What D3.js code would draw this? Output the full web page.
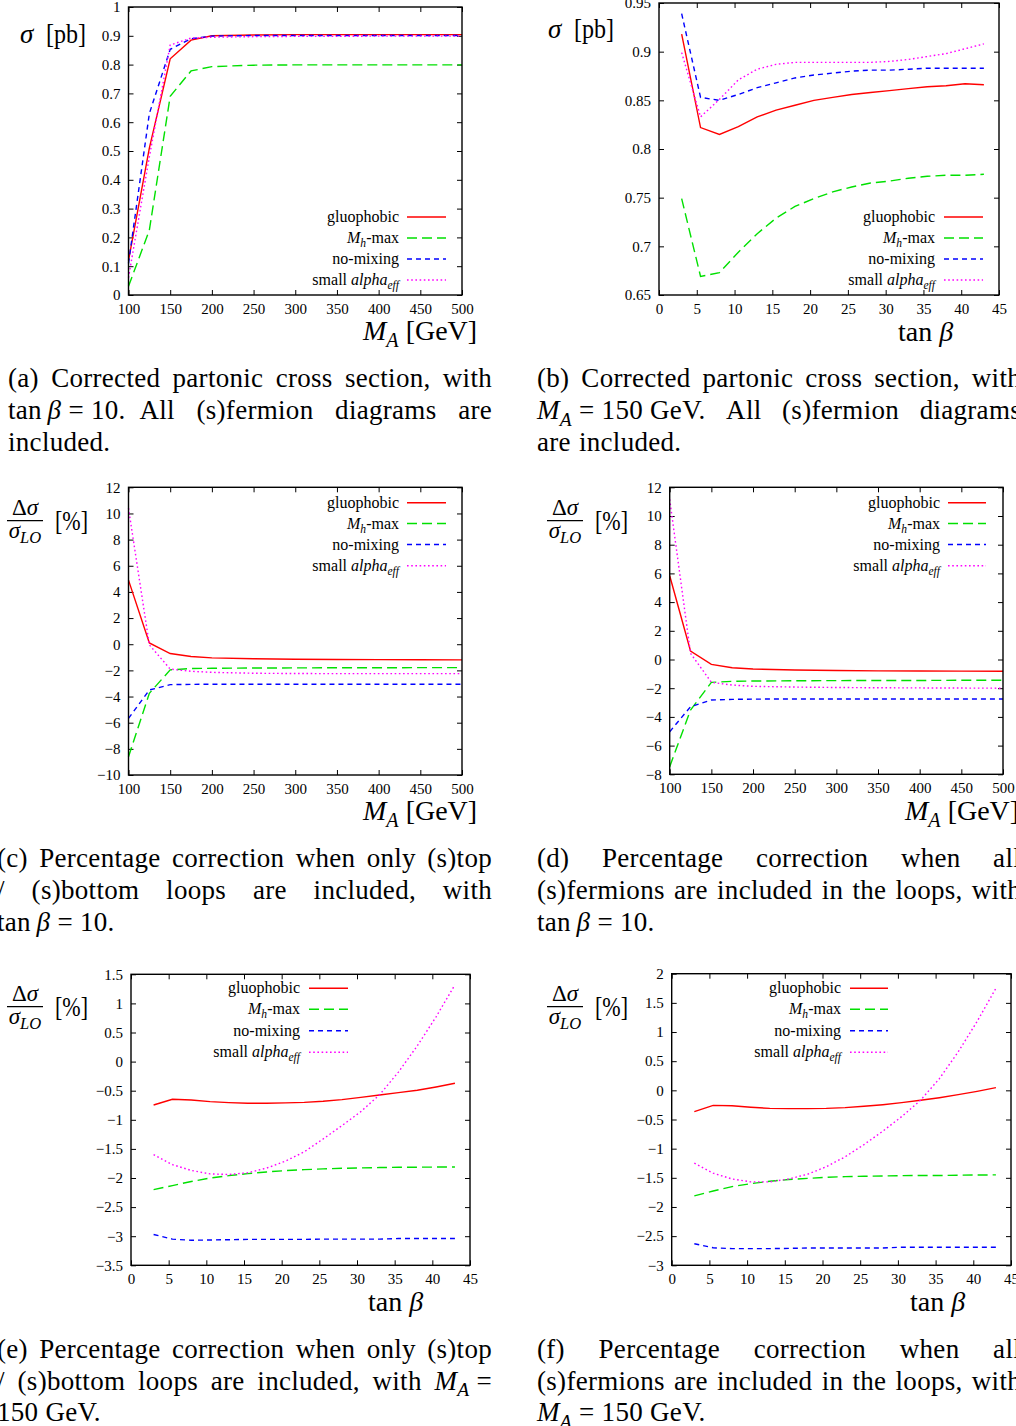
<!DOCTYPE html>
<html><head><meta charset="utf-8">
<script src="https://cdn.jsdelivr.net/npm/d3@7"></script>
<style>
body{margin:0;background:#fff}
svg{display:block;background:#fff}
text{font-family:"Liberation Serif","DejaVu Serif","Times New Roman",serif;fill:#000}
</style>
</head><body>
<svg id="chart" width="1016" height="1426" font-family="Liberation Serif, DejaVu Serif, serif"></svg>
<script>
// ---------------- DATA ----------------
const seriesNames = ["gluophobic", "$M_h$-max", "no-mixing", "small $alpha_eff$"];
const mA = [100, 125, 150, 175, 200, 250, 300, 350, 400, 450, 500];
const tanBeta = [3, 5.5, 8, 10.5, 13, 15.5, 18, 20.5, 23, 25.5, 28, 30.5, 33, 35.5, 38, 40.5, 43];

// (a) sigma vs M_A, tan beta = 10
const sigMA_gluophobic = [0.12, 0.51, 0.82, 0.885, 0.900, 0.903, 0.904, 0.904, 0.904, 0.904, 0.904];
const sigMA_mhmax      = [0.03, 0.225, 0.69, 0.778, 0.793, 0.798, 0.799, 0.799, 0.799, 0.799, 0.799];
const sigMA_nomixing   = [0.11, 0.63, 0.853, 0.89, 0.899, 0.901, 0.901, 0.901, 0.901, 0.901, 0.901];
const sigMA_smallalpha = [0.06, 0.48, 0.868, 0.892, 0.895, 0.897, 0.898, 0.898, 0.899, 0.899, 0.899];

// (b) sigma vs tan beta, M_A = 150 GeV
const sigTB_gluophobic = [0.918, 0.822, 0.815, 0.823, 0.833, 0.840, 0.845, 0.850, 0.853, 0.856, 0.858, 0.860, 0.862, 0.864, 0.865, 0.867, 0.866];
const sigTB_mhmax      = [0.749, 0.669, 0.673, 0.694, 0.713, 0.729, 0.741, 0.749, 0.756, 0.761, 0.765, 0.767, 0.770, 0.772, 0.773, 0.773, 0.774];
const sigTB_nomixing   = [0.939, 0.853, 0.850, 0.856, 0.863, 0.868, 0.873, 0.876, 0.878, 0.880, 0.881, 0.881, 0.882, 0.883, 0.883, 0.883, 0.883];
const sigTB_smallalpha = [0.899, 0.833, 0.851, 0.871, 0.882, 0.887, 0.889, 0.889, 0.889, 0.889, 0.889, 0.890, 0.892, 0.895, 0.898, 0.903, 0.908];

// (c) % correction, only (s)top/(s)bottom, vs M_A
const topMA_gluophobic = [4.9, 0.1, -0.71, -0.94, -1.04, -1.11, -1.15, -1.17, -1.18, -1.19, -1.2];
const topMA_mhmax      = [-8.6, -3.75, -1.96, -1.86, -1.84, -1.82, -1.81, -1.8, -1.8, -1.79, -1.79];
const topMA_nomixing   = [-5.67, -3.5, -3.09, -3.07, -3.06, -3.06, -3.06, -3.06, -3.06, -3.06, -3.06];
const topMA_smallalpha = [10.4, -0.05, -1.9, -2.07, -2.15, -2.22, -2.24, -2.25, -2.25, -2.25, -2.25];

// (d) % correction, all (s)fermions, vs M_A
const allMA_gluophobic = [5.84, 0.59, -0.34, -0.57, -0.66, -0.73, -0.77, -0.79, -0.8, -0.81, -0.82];
const allMA_mhmax      = [-7.47, -3.52, -1.59, -1.52, -1.5, -1.48, -1.47, -1.46, -1.46, -1.45, -1.45];
const allMA_nomixing   = [-5.03, -3.29, -2.82, -2.78, -2.76, -2.75, -2.75, -2.75, -2.75, -2.75, -2.75];
const allMA_smallalpha = [11.16, 0.43, -1.59, -1.78, -1.87, -1.92, -1.95, -1.97, -1.98, -1.99, -2.0];

// (e) % correction, only (s)top/(s)bottom, vs tan beta
const topTB_gluophobic = [-0.745, -0.648, -0.659, -0.688, -0.705, -0.716, -0.716, -0.71, -0.70, -0.682, -0.654, -0.614, -0.573, -0.533, -0.493, -0.436, -0.373];
const topTB_mhmax      = [-2.20, -2.13, -2.06, -2.0, -1.96, -1.925, -1.896, -1.873, -1.856, -1.844, -1.833, -1.827, -1.82, -1.816, -1.814, -1.812, -1.81];
const topTB_nomixing   = [-2.97, -3.05, -3.07, -3.065, -3.06, -3.055, -3.055, -3.055, -3.055, -3.05, -3.05, -3.05, -3.05, -3.04, -3.04, -3.04, -3.04];
const topTB_smallalpha = [-1.6, -1.77, -1.87, -1.93, -1.94, -1.91, -1.83, -1.71, -1.55, -1.33, -1.10, -0.86, -0.57, -0.18, 0.27, 0.77, 1.32];

// (f) % correction, all (s)fermions, vs tan beta
const allTB_gluophobic = [-0.366, -0.257, -0.263, -0.29, -0.31, -0.314, -0.314, -0.31, -0.297, -0.274, -0.246, -0.211, -0.171, -0.126, -0.074, -0.017, 0.046];
const allTB_mhmax      = [-1.81, -1.726, -1.65, -1.6, -1.56, -1.53, -1.51, -1.49, -1.48, -1.474, -1.469, -1.463, -1.46, -1.46, -1.455, -1.452, -1.45];
const allTB_nomixing   = [-2.63, -2.70, -2.714, -2.714, -2.714, -2.71, -2.703, -2.703, -2.703, -2.703, -2.703, -2.69, -2.69, -2.69, -2.69, -2.69, -2.69];
const allTB_smallalpha = [-1.25, -1.42, -1.52, -1.57, -1.57, -1.52, -1.44, -1.31, -1.14, -0.93, -0.70, -0.45, -0.17, 0.2, 0.66, 1.18, 1.75];

// tick values
const ticksMA = [100, 150, 200, 250, 300, 350, 400, 450, 500];
const ticksTB = [0, 5, 10, 15, 20, 25, 30, 35, 40, 45];
const ticksSigA = [0, 0.1, 0.2, 0.3, 0.4, 0.5, 0.6, 0.7, 0.8, 0.9, 1];
const ticksSigB = [0.65, 0.7, 0.75, 0.8, 0.85, 0.9, 0.95];
const ticksPctC = [-10, -8, -6, -4, -2, 0, 2, 4, 6, 8, 10, 12];
const ticksPctD = [-8, -6, -4, -2, 0, 2, 4, 6, 8, 10, 12];
const ticksPctE = [-3.5, -3, -2.5, -2, -1.5, -1, -0.5, 0, 0.5, 1, 1.5];
const ticksPctF = [-3, -2.5, -2, -1.5, -1, -0.5, 0, 0.5, 1, 1.5, 2];

// captions
const captionA = ["(a) Corrected partonic cross section, with", "tan\u2009$β$\u00a0=\u00a010.\u2002All (s)fermion diagrams are", "included."];
const captionB = ["(b) Corrected partonic cross section, with", "$M_A$\u00a0=\u00a0150\u00a0GeV. All (s)fermion diagrams", "are included."];
const captionC = ["(c) Percentage correction when only (s)top", "/ (s)bottom loops are included, with", "tan\u2009$β$\u00a0=\u00a010."];
const captionD = ["(d) Percentage correction when all", "(s)fermions are included in the loops, with", "tan\u2009$β$\u00a0=\u00a010."];
const captionE = ["(e) Percentage correction when only (s)top", "/ (s)bottom loops are included, with $M_A$\u00a0=", "150\u00a0GeV."];
const captionF = ["(f) Percentage correction when all", "(s)fermions are included in the loops, with", "$M_A$\u00a0=\u00a0150\u00a0GeV."];

// ---------------- STYLE / LAYOUT ----------------
const colors = ["#ff0000", "#00e000", "#0000ff", "#ff00ff"];
const dashes = [null, "10,5", "5,4", "1.6,2.6"];
const svg = d3.select("#chart");

const panels = [
  {x:mA, ys:[sigMA_gluophobic, sigMA_mhmax, sigMA_nomixing, sigMA_smallalpha], xd:[100,500], yd:[0,1], xt:ticksMA, yt:ticksSigA,
   box:[128.5, 462, 7, 295], leg:{tr:399, s0:407, s1:446, rows:[217,238,259,280]}, ylab:{type:"sigma", x:20, y:43}, xlab:{type:"MA", x:363, y:340}},
  {x:tanBeta, ys:[sigTB_gluophobic, sigTB_mhmax, sigTB_nomixing, sigTB_smallalpha], xd:[0,45], yd:[0.65,0.95], xt:ticksTB, yt:ticksSigB,
   box:[659, 999, 3, 295], leg:{tr:935, s0:944, s1:983, rows:[217,238,259,280]}, ylab:{type:"sigma", x:548, y:38}, xlab:{type:"tb", x:898, y:341}},
  {x:mA, ys:[topMA_gluophobic, topMA_mhmax, topMA_nomixing, topMA_smallalpha], xd:[100,500], yd:[-10,12], xt:ticksMA, yt:ticksPctC,
   box:[128.5, 462, 487.3, 775], leg:{tr:399, s0:407, s1:446, rows:[502.7,523.5,544.5,565.7]}, ylab:{type:"frac", x:7, y:520.7}, xlab:{type:"MA", x:363, y:820}},
  {x:mA, ys:[allMA_gluophobic, allMA_mhmax, allMA_nomixing, allMA_smallalpha], xd:[100,500], yd:[-8,12], xt:ticksMA, yt:ticksPctD,
   box:[669.7, 1003, 487.3, 774.3], leg:{tr:940, s0:948, s1:986, rows:[502.7,523.5,544.5,565.7]}, ylab:{type:"frac", x:547, y:520.7}, xlab:{type:"MA", x:905, y:820}},
  {x:tanBeta, ys:[topTB_gluophobic, topTB_mhmax, topTB_nomixing, topTB_smallalpha], xd:[0,45], yd:[-3.5,1.5], xt:ticksTB, yt:ticksPctE,
   box:[131, 470, 974.3, 1265.3], leg:{tr:300, s0:309, s1:348, rows:[988.3,1009.3,1030.7,1052.3]}, ylab:{type:"frac", x:7, y:1006.7}, xlab:{type:"tb", x:368, y:1311}},
  {x:tanBeta, ys:[allTB_gluophobic, allTB_mhmax, allTB_nomixing, allTB_smallalpha], xd:[0,45], yd:[-3,2], xt:ticksTB, yt:ticksPctF,
   box:[671.7, 1011, 973.7, 1265.3], leg:{tr:841, s0:850, s1:888, rows:[988.3,1009.3,1030.7,1052.3]}, ylab:{type:"frac", x:547, y:1006.7}, xlab:{type:"tb", x:910, y:1311}}
];

// rich text: "$M_A$" -> italic M + italic subscript A ; "$β$" -> italic β
function rich(textSel, str, fs) {
  const parts = str.split(/(\$[^$]+\$)/).filter(s => s.length);
  const sh = fs * 0.25;
  let shifted = false;
  parts.forEach(p => {
    let t;
    if (p.startsWith("$")) {
      const m = p.slice(1, -1);
      const idx = m.indexOf("_");
      const base = idx >= 0 ? m.slice(0, idx) : m;
      const sub = idx >= 0 ? m.slice(idx + 1) : null;
      t = textSel.append("tspan").attr("font-style", "italic").text(base);
      if (shifted) { t.attr("dy", -sh); shifted = false; }
      if (sub) {
        textSel.append("tspan").attr("font-style", "italic").attr("font-size", fs * 0.72).attr("dy", sh).text(sub);
        shifted = true;
      }
    } else {
      t = textSel.append("tspan").text(p);
      if (shifted) { t.attr("dy", -sh); shifted = false; }
    }
  });
}

const fmt = d => (d < 0 ? "\u2212" : "") + Math.abs(d);

panels.forEach(p => {
  const [x0, x1, y0, y1] = p.box;
  const xs = d3.scaleLinear().domain(p.xd).range([x0, x1]);
  const ys = d3.scaleLinear().domain(p.yd).range([y1, y0]);
  const g = svg.append("g");

  // axes with inward ticks (mirrored)
  const styleAxis = sel => {
    sel.attr("font-size", 15).attr("font-family", null);
    sel.select(".domain").remove();
    sel.selectAll(".tick line").attr("stroke", "#000").attr("stroke-width", 1);
  };
  g.append("g").attr("transform", `translate(0,${y1})`)
    .call(d3.axisBottom(xs).tickValues(p.xt).tickSize(-5).tickPadding(8).tickFormat(fmt)).call(styleAxis);
  g.append("g").attr("transform", `translate(0,${y0})`)
    .call(d3.axisTop(xs).tickValues(p.xt).tickSize(-5).tickFormat("")).call(styleAxis);
  g.append("g").attr("transform", `translate(${x0},0)`)
    .call(d3.axisLeft(ys).tickValues(p.yt).tickSize(-5).tickPadding(8).tickFormat(fmt)).call(styleAxis);
  g.append("g").attr("transform", `translate(${x1},0)`)
    .call(d3.axisRight(ys).tickValues(p.yt).tickSize(-5).tickFormat("")).call(styleAxis);

  // series lines
  const line = d3.line().x((d, i) => xs(p.x[i])).y(d => ys(d));
  p.ys.forEach((arr, k) => {
    g.append("path").datum(arr).attr("d", line)
      .attr("fill", "none").attr("stroke", colors[k]).attr("stroke-width", 1.4)
      .attr("stroke-dasharray", dashes[k]);
  });

  // frame
  g.append("rect").attr("x", x0).attr("y", y0).attr("width", x1 - x0).attr("height", y1 - y0)
    .attr("fill", "none").attr("stroke", "#000").attr("stroke-width", 1.4);

  // legend
  seriesNames.forEach((name, k) => {
    const yy = p.leg.rows[k];
    const t = g.append("text").attr("x", p.leg.tr).attr("y", yy + 5).attr("text-anchor", "end").attr("font-size", 16);
    rich(t, name, 16);
    g.append("line").attr("x1", p.leg.s0).attr("x2", p.leg.s1).attr("y1", yy).attr("y2", yy)
      .attr("stroke", colors[k]).attr("stroke-width", 1.4).attr("stroke-dasharray", dashes[k]);
  });

  // y label
  if (p.ylab.type === "sigma") {
    g.append("text").attr("x", p.ylab.x).attr("y", p.ylab.y).attr("font-size", 27).attr("font-style", "italic").text("σ");
    g.append("text").attr("x", p.ylab.x + 26).attr("y", p.ylab.y).attr("font-size", 27)
      .attr("textLength", 40).attr("lengthAdjust", "spacingAndGlyphs").text("[pb]");
  } else {
    const lx = p.ylab.x, ly = p.ylab.y;
    const cx = lx + 18;
    const num = g.append("text").attr("x", cx).attr("y", ly - 6).attr("text-anchor", "middle").attr("font-size", 23);
    num.append("tspan").text("Δ");
    num.append("tspan").attr("font-style", "italic").text("σ");
    g.append("line").attr("x1", lx).attr("x2", lx + 36).attr("y1", ly).attr("y2", ly).attr("stroke", "#000").attr("stroke-width", 1.2);
    const den = g.append("text").attr("x", cx).attr("y", ly + 17).attr("text-anchor", "middle").attr("font-size", 23);
    rich(den, "$σ_LO$", 23);
    g.append("text").attr("x", lx + 48).attr("y", ly + 9).attr("font-size", 27)
      .attr("textLength", 33).attr("lengthAdjust", "spacingAndGlyphs").text("[%]");
  }

  // x label
  const xl = g.append("text").attr("x", p.xlab.x).attr("y", p.xlab.y).attr("font-size", 28);
  if (p.xlab.type === "MA") rich(xl, "$M_A$ [GeV]", 28);
  else rich(xl, "tan $β$", 28);
});

// ---------------- CAPTIONS (justified) ----------------
function drawCaption(lines, x0, x1, yBase, lh) {
  const fs = 27;
  lines.forEach((line, i) => {
    const words = line.split(" ").filter(w => w.length);
    const nodes = words.map(w => {
      const t = svg.append("text").attr("font-size", fs).attr("letter-spacing", 0.3).attr("y", yBase + i * lh);
      rich(t, w, fs);
      return t;
    });
    const widths = nodes.map(n => n.node().getComputedTextLength());
    const last = i === lines.length - 1;
    const total = d3.sum(widths);
    const gap = (last || words.length < 2) ? fs * 0.3 : (x1 - x0 - total) / (words.length - 1);
    let x = x0;
    nodes.forEach((n, k) => { n.attr("x", x); x += widths[k] + gap; });
  });
}
drawCaption(captionA, 8, 492, 387, 32);
drawCaption(captionB, 537, 1021, 387, 32);
drawCaption(captionC, -3, 492, 867, 32);
drawCaption(captionD, 537, 1021, 867, 32);
drawCaption(captionE, -3, 492, 1358, 31.5);
drawCaption(captionF, 537, 1021, 1358, 31.5);
</script>
</body></html>
